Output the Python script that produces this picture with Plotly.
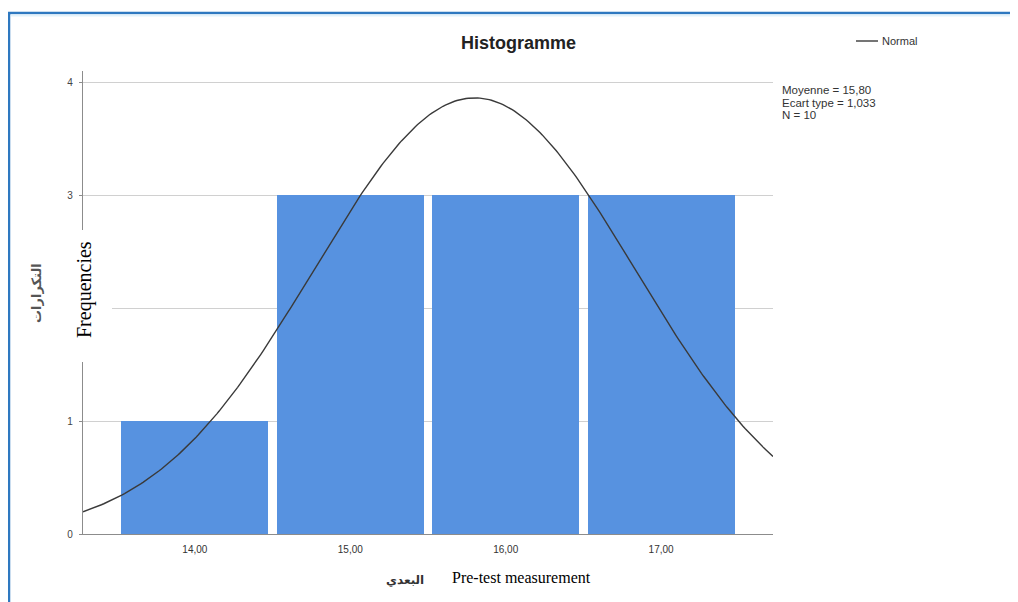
import numpy as np
import plotly.graph_objects as go

# ---- data ----
categories = [14.0, 15.0, 16.0, 17.0]
tick_labels = ["14,00", "15,00", "16,00", "17,00"]
frequencies = [1, 3, 3, 3]
mean_val = 15.80
sd_val = 1.033
n_val = 10
bin_width = 1.0
y_ticks = [0, 1, 2, 3, 4]
stats_lines = ["Moyenne = 15,80", "Ecart type = 1,033", "N = 10"]

# Normal curve defined by the statistics shown on the chart
x_curve = np.linspace(13.28, 17.72, 300)
y_curve = n_val * bin_width / (sd_val * np.sqrt(2 * np.pi)) * np.exp(-0.5 * ((x_curve - mean_val) / sd_val) ** 2)

PAGE_W, PAGE_H = 1018, 602
OFF = 8  # browser body margin
W, H = PAGE_W - OFF, PAGE_H - OFF
L, R, B, T = 83, 773, 534, 71  # plot area in page pixels


def px(x):
    return (x - L) / (R - L)


def py(y):
    return (B - y) / (B - T)


fig = go.Figure()
fig.add_trace(go.Bar(x=categories, y=frequencies, width=0.945,
                     marker=dict(color="#5792E0", line=dict(width=0)),
                     showlegend=False, hoverinfo="skip"))
fig.add_trace(go.Scatter(x=x_curve, y=y_curve, mode="lines",
                         line=dict(color="#3a3a3a", width=1.4),
                         name="Normal", showlegend=False))

fig.update_layout(
    width=W, height=H,
    margin=dict(l=L - OFF, r=PAGE_W - R, t=T - OFF, b=PAGE_H - B, pad=0),
    paper_bgcolor="white", plot_bgcolor="white",
    font=dict(family="Liberation Sans, Arial, sans-serif", color="#333333", size=11),
    bargap=0,
    xaxis=dict(range=[13.28, 17.72], tickvals=categories, ticktext=tick_labels,
               showgrid=False, zeroline=False, showline=True, linecolor="#8c8c8c",
               linewidth=1.2, ticks="", tickfont=dict(size=10, color="#333333"),
               ticklabelstandoff=6),
    yaxis=dict(range=[0, 4.1], tickvals=y_ticks, showgrid=True, gridcolor="#d0d0d0",
               gridwidth=1, zeroline=False, showline=True, linecolor="#8c8c8c",
               linewidth=1.2, ticks="outside", ticklen=3, tickcolor="#8c8c8c",
               tickfont=dict(size=10, color="#444444"), ticklabelstandoff=4),
)

shapes = []
# blue frame (top & left)
shapes.append(dict(type="line", xref="paper", yref="paper", x0=px(8), x1=px(PAGE_W + 5),
                   y0=py(13), y1=py(13), line=dict(color="#2E78C0", width=2.5), layer="above"))
shapes.append(dict(type="line", xref="paper", yref="paper", x0=px(11), x1=px(PAGE_W + 5),
                   y0=py(15.5), y1=py(15.5), line=dict(color="#e2f2fb", width=2), layer="above"))
shapes.append(dict(type="line", xref="paper", yref="paper", x0=px(9), x1=px(9),
                   y0=py(12), y1=py(PAGE_H + 5), line=dict(color="#2E78C0", width=2.5), layer="above"))
# white patch covering part of y axis (under "Frequencies")
shapes.append(dict(type="rect", xref="paper", yref="paper", x0=px(62), x1=px(112),
                   y0=py(230), y1=py(362), fillcolor="white", line=dict(width=0), layer="above"))
# legend line
shapes.append(dict(type="line", xref="paper", yref="paper", x0=px(856), x1=px(878),
                   y0=py(41), y1=py(41), line=dict(color="#3a3a3a", width=1.4), layer="above"))
fig.update_layout(shapes=shapes)

ann = []
ann.append(dict(text="<b>Histogramme</b>", xref="paper", yref="paper", x=px(518), y=py(43),
                yanchor="middle", showarrow=False, font=dict(size=18, color="#222222",
                family="Liberation Sans, Arial, sans-serif")))
ann.append(dict(text="Normal", xref="paper", yref="paper", x=px(880), y=py(41),
                xanchor="left", yanchor="middle", showarrow=False,
                font=dict(size=11, color="#333333")))
for i, line in enumerate(stats_lines):
    ann.append(dict(text=line, xref="paper", yref="paper", x=px(780), y=py(90 + 12.5 * i),
                    xanchor="left", yanchor="middle", showarrow=False,
                    font=dict(size=11.5, color="#333333")))
ann.append(dict(text="<b>التكرارات</b>", xref="paper", yref="paper", x=px(36), y=py(293),
                textangle=-90, showarrow=False, yanchor="middle", xanchor="center",
                font=dict(size=13, color="#555555", family="DejaVu Sans, sans-serif")))
ann.append(dict(text="Frequencies", xref="paper", yref="paper", x=px(84), y=py(290),
                textangle=-90, showarrow=False, yanchor="middle", xanchor="center",
                font=dict(size=20, color="#000000",
                family="Liberation Serif, Times New Roman, serif")))
ann.append(dict(text="<b>البعدي</b>", xref="paper", yref="paper", x=px(405), y=py(580),
                showarrow=False, yanchor="middle",
                font=dict(size=12, color="#333333", family="DejaVu Sans, sans-serif")))
ann.append(dict(text="Pre-test measurement", xref="paper", yref="paper", x=px(521), y=py(577),
                showarrow=False, yanchor="middle",
                font=dict(size=16, color="#000000",
                family="Liberation Serif, Times New Roman, serif")))
fig.update_layout(annotations=ann)

fig.write_html("out.html")
